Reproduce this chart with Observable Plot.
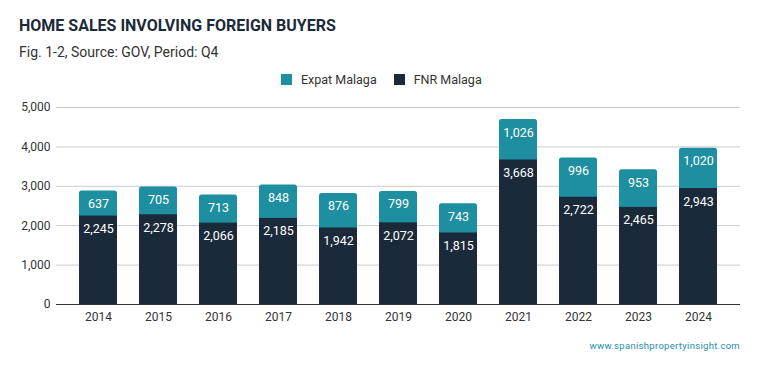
<!DOCTYPE html>
<html><head><meta charset="utf-8">
<script src="https://cdn.jsdelivr.net/npm/d3@7"></script>
<script src="https://cdn.jsdelivr.net/npm/@observablehq/plot@0.6"></script>
<style>
body{margin:0;background:#fff;font-family:Roboto,sans-serif;}
#wrap{position:relative;width:759px;height:371px;overflow:hidden;}
#title{position:absolute;left:19px;top:16px;font-size:16px;font-weight:700;color:#1b2a3a;}
#sub{position:absolute;left:19px;top:44px;font-size:14px;color:#333;}
#legend{position:absolute;left:281px;top:72px;font-size:12.5px;color:#333;display:flex;align-items:center;}
#legend span.sw{display:inline-block;width:11px;height:11px;margin-right:9px;}
#legend span.it{display:flex;align-items:center;margin-right:17px;}
#chart{position:absolute;left:0;top:95px;}
#cap{position:absolute;right:19px;top:340px;font-size:9.5px;color:#1e8fa0;letter-spacing:0.3px;}
</style></head>
<body><div id="wrap">
<div id="title">HOME SALES INVOLVING FOREIGN BUYERS</div>
<div id="sub">Fig. 1-2, Source: GOV, Period: Q4</div>
<div id="legend"><span class="it"><span class="sw" style="background:#1e8fa0"></span>Expat Malaga</span><span class="it"><span class="sw" style="background:#1b2a3a"></span>FNR Malaga</span></div>
<div id="chart"></div>
<div id="cap">www.spanishpropertyinsight.com</div>
</div>
<script>
const years = ["2014","2015","2016","2017","2018","2019","2020","2021","2022","2023","2024"];
const fnr = [2245,2278,2066,2185,1942,2072,1815,3668,2722,2465,2943];
const expat = [637,705,713,848,876,799,743,1026,996,953,1020];
const yTicks = [0,1000,2000,3000,4000,5000];

const rows = years.map((y,i)=>({year:y, fnr:fnr[i], expat:expat[i], total:fnr[i]+expat[i]}));
const fmt = d3.format(",");

const chart = Plot.plot({
  width: 759, height: 235,
  marginLeft: 56, marginRight: 19, marginTop: 12, marginBottom: 26,
  style: {fontFamily: "Roboto, sans-serif", fontSize: "12px", color: "#333"},
  x: {domain: years, padding: 0.37, label: null, tickSize: 0, tickPadding: 8},
  y: {domain: [0,5000], ticks: yTicks, tickFormat: fmt, label: null, tickSize: 0, tickPadding: 6},
  marks: [
    Plot.gridY(yTicks, {stroke: "#ccc", strokeOpacity: 1}),
    Plot.barY(rows, {x: "year", y1: 0, y2: "total", fill: "#1e8fa0", rx: 2.5}),
    Plot.barY(rows, {x: "year", y1: 0, y2: "fnr", fill: "#1b2a3a"}),
    Plot.ruleY([0], {stroke: "#333"}),
    Plot.text(rows, {x: "year", y: "total", text: d => fmt(d.expat), dy: 13, fill: "#fff", fontSize: 12.5}),
    Plot.text(rows, {x: "year", y: "fnr", text: d => fmt(d.fnr), dy: 13, fill: "#fff", fontSize: 12.5})
  ]
});
document.getElementById("chart").appendChild(chart);
</script>
</body></html>
